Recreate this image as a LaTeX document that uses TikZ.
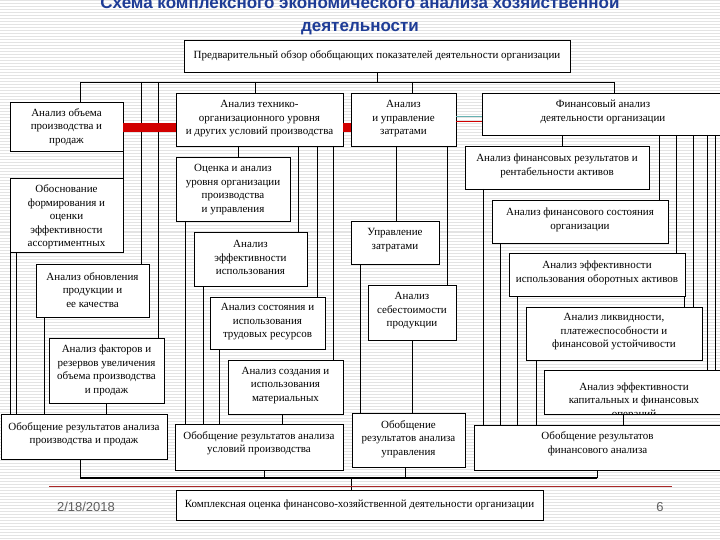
\documentclass[tikz,border=0pt]{standalone}
\usepackage{fontspec}
\setmainfont{Liberation Serif}
\newfontfamily\sansf{Liberation Sans}
\definecolor{titleblue}{RGB}{30,60,150}
\definecolor{bandred}{RGB}{210,0,0}
\definecolor{footred}{RGB}{170,40,40}
\tikzset{
  boxshape/.style={draw=black, line width=0.8pt, fill=white, inner sep=0pt, outer sep=0pt},
  boxtext/.style={align=center, inner sep=0pt, font=\fontsize{11}{13.5}\selectfont},
  ln/.style={draw=black, line width=0.7pt},
  busline/.style={draw=black, line width=1.2pt},
  redband/.style={draw=bandred, line width=9pt},
  redthin/.style={draw=bandred, line width=0.8pt},
  tealthin/.style={draw=teal!60, line width=0.6pt},
  stripe/.style={draw=gray!22, line width=1pt},
  titletext/.style={font=\sansf\bfseries\fontsize{17}{23}\selectfont, text=titleblue, inner sep=0pt},
  foottext/.style={font=\sansf\fontsize{13}{15}\selectfont, text=gray!75!black, inner sep=0pt},
  footline/.style={draw=footred, line width=0.8pt}
}
\newcommand\bx[7]{%
  \node[boxshape, anchor=north west, minimum width={#4-#2}, minimum height={#5-#3}] (#1) at (#2,#3) {};
  \begin{scope}
    \clip (#1.north west) rectangle (#1.south east);
    \node[boxtext] (#1t) at ({(#2+#4)/2},#6) {#7};
  \end{scope}}
\newcommand\vc[3]{\coordinate (vx) at (#1,0); \draw[ln] (vx |- #2) -- (vx |- #3);}
\begin{document}
\begin{tikzpicture}[x=1pt,y=-1pt]
\useasboundingbox (0,0) rectangle (720,540);
\clip (0,0) rectangle (720,540);
\fill[white] (0,0) rectangle (720,540);
\foreach \i in {1,4,...,540} \draw[stripe] (0,\i) -- (720,\i);

% title
\node[titletext, anchor=base] (title1) at (360,8.5) {Схема комплексного экономического анализа хозяйственной};
\node[titletext, anchor=base] (title2) at (360,31.5) {деятельности};

% boxes
\bx{b1}{184}{40}{570}{72}{56}{Предварительный обзор обобщающих показателей деятельности организации}
\bx{b2}{10}{102}{123}{151}{127}{Анализ объема\\производства и\\продаж}
\bx{b3}{176}{93}{343}{146}{119}{Анализ технико-\\организационного уровня\\и других условий производства}
\bx{b4}{351}{93}{456}{146}{119}{Анализ\\и управление\\затратами}
\bx{b5}{482}{93}{724}{135}{112}{Финансовый анализ\\деятельности организации}
\bx{b6}{10}{178}{123}{252}{217}{Обоснование\\формирования и\\оценки\\эффективности\\ассортиментных}
\bx{b7}{176}{157}{290}{221}{189.5}{Оценка и анализ\\уровня организации\\производства\\и управления}
\bx{b8}{194}{232}{307}{286}{257.5}{Анализ\\эффективности\\использования}
\bx{b9}{351}{221}{439}{264}{240}{Управление\\затратами}
\bx{b10}{465}{146}{649}{189}{166}{Анализ финансовых результатов и\\рентабельности активов}
\bx{b11}{492}{200}{668}{243}{220}{Анализ финансового состояния\\организации}
\bx{b12}{509}{253}{685}{296}{273}{Анализ эффективности\\использования оборотных активов}
\bx{b13}{36}{264}{149}{317}{290}{Анализ обновления\\продукции и\\ее качества}
\bx{b14}{210}{297}{325}{349}{322}{Анализ состояния и\\использования\\трудовых ресурсов}
\bx{b15}{368}{285}{456}{340}{311}{Анализ\\себестоимости\\продукции}
\bx{b16}{526}{307}{702}{360}{332}{Анализ ликвидности,\\платежеспособности и\\финансовой устойчивости}
\bx{b17}{49}{338}{164}{403}{370.5}{Анализ факторов и\\резервов увеличения\\объема производства\\и продаж}
\bx{b18}{228}{360}{343}{414}{385.5}{Анализ создания и\\использования\\материальных}
\bx{b19}{544}{370}{724}{414}{401}{Анализ эффективности\\капитальных и финансовых\\операций}
\bx{b20}{1}{414}{167}{459}{434}{Обобщение результатов анализа\\производства и продаж}
\bx{b21}{175}{424}{343}{470}{443}{Обобщение результатов анализа\\условий производства}
\bx{b22}{352}{413}{465}{467}{439}{Обобщение\\результатов анализа\\управления}
\bx{b23}{474}{425}{721}{470}{443.5}{Обобщение результатов\\финансового анализа}
\bx{b24}{176}{490}{543}{520}{505}{Комплексная оценка финансово-хозяйственной деятельности организации}

% top bus
\coordinate (busL) at (80,82);
\coordinate (busR) at (614,82);
\draw[ln] (b1.south) -- (b1.south |- busL);
\draw[ln] (busL) -- (busR);
\vc{80}{busL}{b2.north}
\vc{255}{busL}{b3.north}
\vc{412}{busL}{b4.north}
\vc{614}{busL}{b5.north}
\vc{141}{busL}{b13.north}
\vc{158}{busL}{b17.north}

% left column
\vc{123}{b2.south}{b6.north}
\vc{10}{b6.south}{b20.north}
\vc{16}{b6.south}{b20.north}
\vc{44}{b13.south}{b20.north}
\vc{106}{b17.south}{b20.north}

% middle column
\vc{238}{b3.south}{b7.north}
\vc{298}{b3.south}{b8.north}
\vc{317}{b3.south}{b14.north}
\vc{333}{b3.south}{b18.north}
\vc{185}{b7.south}{b21.north}
\vc{203}{b8.south}{b21.north}
\vc{219}{b14.south}{b21.north}
\vc{282}{b18.south}{b21.north}

% costs column
\vc{396}{b4.south}{b9.north}
\vc{447}{b4.south}{b15.north}
\vc{360}{b9.south}{b22.north}
\vc{412}{b15.south}{b22.north}

% financial column
\vc{562}{b5.south}{b10.north}
\vc{659}{b5.south}{b11.north}
\vc{676}{b5.south}{b12.north}
\vc{693}{b5.south}{b16.north}
\vc{707}{b5.south}{b19.north}
\vc{715}{b5.south}{b19.north}
\vc{684}{b12.south}{b16.north}
\vc{483}{b10.south}{b23.north}
\vc{500}{b11.south}{b23.north}
\vc{517}{b12.south}{b23.north}
\vc{536}{b16.south}{b23.north}
\vc{623}{b19.south}{b23.north}

% bottom bus
\coordinate (botL) at (80,478);
\coordinate (botR) at (597,478);
\vc{80}{b20.south}{botL}
\vc{264}{b21.south}{botL}
\vc{405}{b22.south}{botL}
\vc{597}{b23.south}{botL}
\draw[busline] (botL) -- (botR);
\vc{351}{botL}{b24.north}

% red bands
\coordinate (rb) at (0,127.5);
\coordinate (rt) at (0,121);
\coordinate (tt) at (0,116);
\draw[redband] (b2.east |- rb) -- (b3.west |- rb);
\draw[redband] (b3.east |- rb) -- (b4.west |- rb);
\draw[redthin] (b4.east |- rt) -- (b5.west |- rt);
\draw[tealthin] (b4.east |- tt) -- (b5.west |- tt);

% footer
\coordinate (flL) at (49,486);
\coordinate (flR) at (672,486);
\draw[footline] (flL) -- (flR);
\node[foottext] (date) at (86,507) {2/18/2018};
\node[foottext] (page) at (660,507) {6};
\end{tikzpicture}
\end{document}
